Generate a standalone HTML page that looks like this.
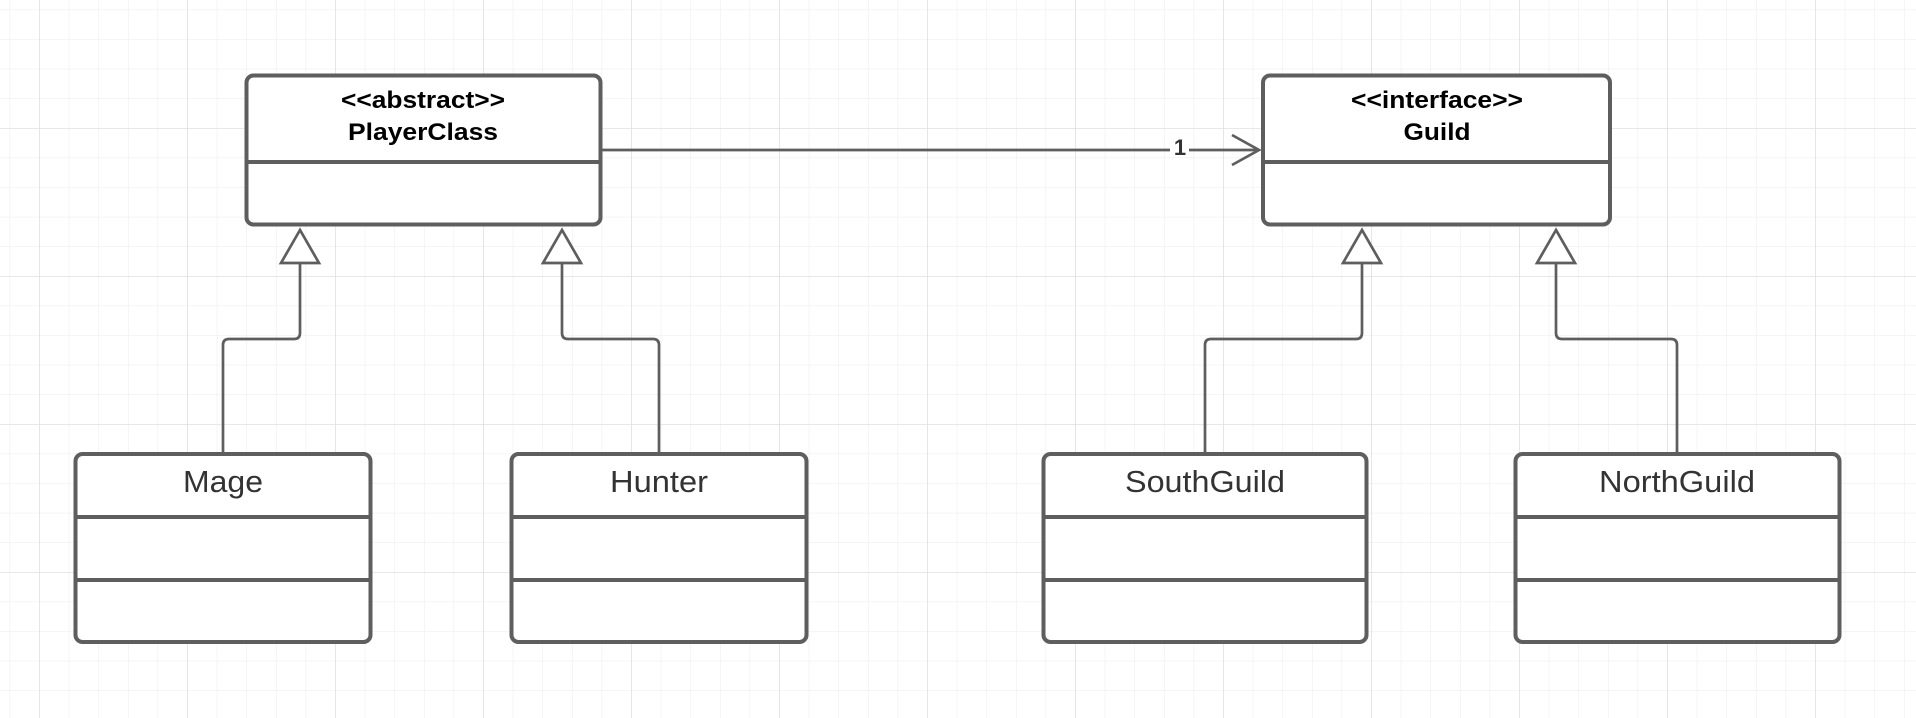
<!DOCTYPE html>
<html><head><meta charset="utf-8"><style>
html,body{margin:0;padding:0;background:#fff;}
svg{display:block;}
text{font-family:"Liberation Sans",sans-serif;}
</style></head><body>
<svg width="1916" height="718" viewBox="0 0 1916 718" xmlns="http://www.w3.org/2000/svg">
<defs>
<pattern id="minor" x="9.6" y="9.6" width="29.6" height="29.6" patternUnits="userSpaceOnUse">
<path d="M0 0 H29.6 M0 0 V29.6" stroke="#ebebeb" stroke-width="1" fill="none"/>
</pattern>
<pattern id="major" x="39" y="128" width="148" height="148" patternUnits="userSpaceOnUse">
<path d="M0 0 H148 M0 0 V148" stroke="#dadada" stroke-width="1.2" fill="none"/>
</pattern>
</defs>
<rect width="1916" height="718" fill="url(#minor)"/>
<rect width="1916" height="718" fill="url(#major)"/>

<g stroke="#5e5e5e" fill="none" stroke-width="2.7">
<line x1="600" y1="150" x2="1170" y2="150"/>
<line x1="1189" y1="150" x2="1259" y2="150"/>
<polyline points="1232,135 1259,150 1232,165"/>
<path d="M223 453 V345 Q223 339 229 339 H294 Q300 339 300 333 V263"/>
<polygon points="300,230 281,263 319,263" fill="#fff"/>
<path d="M659 453 V345 Q659 339 653 339 H568 Q562 339 562 333 V263"/>
<polygon points="562,230 543,263 581,263" fill="#fff"/>
<path d="M1205 453 V345 Q1205 339 1211 339 H1356 Q1362 339 1362 333 V263"/>
<polygon points="1362,230 1343,263 1381,263" fill="#fff"/>
<path d="M1677 453 V345 Q1677 339 1671 339 H1562 Q1556 339 1556 333 V263"/>
<polygon points="1556,230 1537,263 1575,263" fill="#fff"/>
</g>

<g stroke="#5e5e5e" stroke-width="4" fill="#fff">
<rect x="246.5" y="75.5" width="354" height="149" rx="7"/>
<line x1="246.5" y1="162" x2="600.5" y2="162"/>
<rect x="1263" y="75.5" width="347" height="149" rx="7"/>
<line x1="1263" y1="162" x2="1610" y2="162"/>

<rect x="75.5" y="454" width="295" height="188" rx="7"/>
<line x1="75.5" y1="517" x2="370.5" y2="517"/>
<line x1="75.5" y1="580" x2="370.5" y2="580"/>
<rect x="511.5" y="454" width="295" height="188" rx="7"/>
<line x1="511.5" y1="517" x2="806.5" y2="517"/>
<line x1="511.5" y1="580" x2="806.5" y2="580"/>
<rect x="1043.5" y="454" width="323" height="188" rx="7"/>
<line x1="1043.5" y1="517" x2="1366.5" y2="517"/>
<line x1="1043.5" y1="580" x2="1366.5" y2="580"/>
<rect x="1515.5" y="454" width="324" height="188" rx="7"/>
<line x1="1515.5" y1="517" x2="1839.5" y2="517"/>
<line x1="1515.5" y1="580" x2="1839.5" y2="580"/>
</g>

<g text-anchor="middle" font-weight="bold" fill="#000" font-size="24">
<text x="423" y="108" textLength="164" lengthAdjust="spacingAndGlyphs">&lt;&lt;abstract&gt;&gt;</text>
<text x="423" y="140" textLength="150" lengthAdjust="spacingAndGlyphs">PlayerClass</text>
<text x="1437" y="108" textLength="172" lengthAdjust="spacingAndGlyphs">&lt;&lt;interface&gt;&gt;</text>
<text x="1437" y="140" textLength="67" lengthAdjust="spacingAndGlyphs">Guild</text>
<text x="1180" y="155" font-size="22" fill="#333">1</text>
</g>
<g text-anchor="middle" fill="#333" font-size="31">
<text x="223" y="492" textLength="80" lengthAdjust="spacingAndGlyphs">Mage</text>
<text x="659" y="492" textLength="98" lengthAdjust="spacingAndGlyphs">Hunter</text>
<text x="1205" y="492" textLength="160" lengthAdjust="spacingAndGlyphs">SouthGuild</text>
<text x="1677" y="492" textLength="156" lengthAdjust="spacingAndGlyphs">NorthGuild</text>
</g>
</svg>
</body></html>
